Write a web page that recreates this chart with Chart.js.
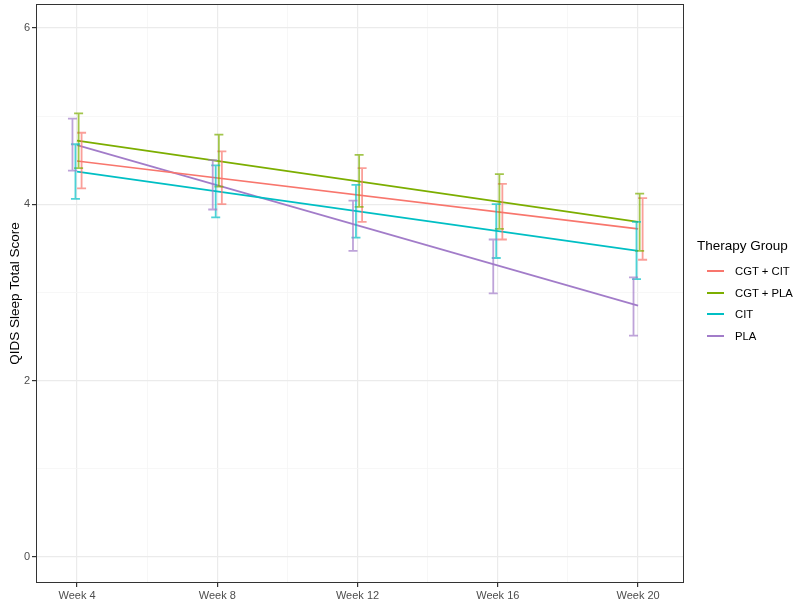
<!DOCTYPE html>
<html>
<head>
<meta charset="utf-8">
<script src="https://cdn.jsdelivr.net/npm/chart.js@4.4.1/dist/chart.umd.min.js"></script>
<style>
    body { margin: 0; background: #fff; font-family: "Liberation Sans", Arial, sans-serif; }
    #wrap { position: relative; width: 800px; height: 604px; }
    #legend { position: absolute; left: 697px; top: 238px; color: #000; }
    #legend .title { font-size: 13.5px; margin-bottom: 7px; }
    #legend .item { display: flex; align-items: center; height: 21.7px; font-size: 11.3px; }
    #legend .key { width: 17px; height: 2px; margin: 0 11px 0 10px; }
</style>
</head>
<body>
<div id="wrap">
    <canvas id="chart" width="800" height="604"></canvas>
    <div id="legend"></div>
</div>
<script>
// weeks on the x axis
const weeks = [4, 8, 12, 16, 20];
const groups = ['CGT + CIT', 'CGT + PLA', 'CIT', 'PLA'];
const colors = ['#F8766D', '#7CAE00', '#00BFC4', '#A27CC9'];

// fitted line, value at week 4 and week 20
const lineStart = [4.49, 4.72, 4.37, 4.67];
const lineEnd = [3.72, 3.80, 3.47, 2.85];

// error bar ends per group, one value per week
const lowerCgtCit = [4.18, 4.00, 3.80, 3.60, 3.37];
const upperCgtCit = [4.81, 4.60, 4.41, 4.23, 4.07];
const lowerCgtPla = [4.41, 4.20, 3.97, 3.72, 3.47];
const upperCgtPla = [5.03, 4.79, 4.56, 4.34, 4.12];
const lowerCit = [4.06, 3.85, 3.62, 3.39, 3.15];
const upperCit = [4.68, 4.44, 4.22, 4.00, 3.80];
const lowerPla = [4.38, 3.94, 3.47, 2.99, 2.51];
const upperPla = [4.97, 4.50, 4.04, 3.60, 3.17];

const lowers = [lowerCgtCit, lowerCgtPla, lowerCit, lowerPla];
const uppers = [upperCgtCit, upperCgtPla, upperCit, upperPla];

// dodge of each group's error bar, in weeks
const dodge = [0.13, 0.045, -0.045, -0.13];

function hexAlpha(hex, a) {
    const n = parseInt(hex.slice(1), 16);
    return `rgba(${n >> 16}, ${(n >> 8) & 255}, ${n & 255}, ${a})`;
}

// Error bars drawn through the chart scales
const errorBarPlugin = {
    id: 'errorBars',
    afterDatasetsDraw(chart) {
        const ctx = chart.ctx;
        const xs = chart.scales.x;
        const ys = chart.scales.y;
        ctx.save();
        ctx.lineWidth = 1.8;
        groups.forEach((g, gi) => {
            ctx.strokeStyle = hexAlpha(colors[gi], 0.7);
            weeks.forEach((w, wi) => {
                const x = xs.getPixelForValue(w + dodge[gi]);
                const y1 = ys.getPixelForValue(lowers[gi][wi]);
                const y2 = ys.getPixelForValue(uppers[gi][wi]);
                ctx.beginPath();
                ctx.moveTo(x, y1);
                ctx.lineTo(x, y2);
                ctx.moveTo(x - 4.5, y1);
                ctx.lineTo(x + 4.5, y1);
                ctx.moveTo(x - 4.5, y2);
                ctx.lineTo(x + 4.5, y2);
                ctx.stroke();
            });
        });
        ctx.restore();
    }
};

// Panel border like theme_bw
const panelBorder = {
    id: 'panelBorder',
    afterDraw(chart) {
        const a = chart.chartArea;
        const ctx = chart.ctx;
        ctx.save();
        ctx.strokeStyle = '#333333';
        ctx.lineWidth = 1;
        ctx.strokeRect(a.left + 0.5, a.top + 0.5, a.right - a.left - 1, a.bottom - a.top - 1);
        ctx.restore();
    }
};

const datasets = groups.map((g, i) => ({
    label: g,
    data: [{ x: weeks[0], y: lineStart[i] }, { x: weeks[weeks.length - 1], y: lineEnd[i] }],
    borderColor: colors[i],
    borderWidth: 1.7,
    pointRadius: 0,
    fill: false
}));

const tickFont = { family: '"Liberation Sans", Arial, sans-serif', size: 11 };

new Chart(document.getElementById('chart'), {
    type: 'line',
    data: { datasets: datasets },
    options: {
        responsive: false,
        animation: false,
        layout: { padding: { top: 4, right: 116, bottom: 0, left: 0 } },
        plugins: { legend: { display: false }, tooltip: { enabled: false } },
        scales: {
            x: {
                type: 'linear',
                min: 2.83,
                max: 21.31,
                afterBuildTicks: scale => {
                    scale.ticks = [4, 6, 8, 10, 12, 14, 16, 18, 20].map(v => ({ value: v }));
                },
                afterFit: scale => {
                    scale.height = 21;
                    scale.paddingLeft = 0;
                    scale.paddingRight = 0;
                },
                ticks: {
                    autoSkip: false,
                    maxRotation: 0,
                    padding: 2,
                    color: '#4D4D4D',
                    font: tickFont,
                    callback: v => (v % 4 === 0 ? 'Week ' + v : '')
                },
                grid: {
                    color: c => (c.tick && c.tick.value % 4 === 0 ? '#EBEBEB' : '#F5F5F5'),
                    lineWidth: c => (c.tick && c.tick.value % 4 === 0 ? 1.2 : 0.8),
                    tickColor: c => (c.tick && c.tick.value % 4 === 0 ? '#333333' : 'rgba(0,0,0,0)'),
                    tickLength: 4
                },
                border: { display: false }
            },
            y: {
                min: -0.295,
                max: 6.27,
                afterBuildTicks: scale => {
                    scale.ticks = [0, 1, 2, 3, 4, 5, 6].map(v => ({ value: v }));
                },
                afterFit: scale => {
                    scale.width = 36;
                    scale.paddingTop = 0;
                    scale.paddingBottom = 0;
                },
                ticks: {
                    padding: 2,
                    color: '#4D4D4D',
                    font: tickFont,
                    callback: v => (v % 2 === 0 ? String(v) : '')
                },
                grid: {
                    color: c => (c.tick && c.tick.value % 2 === 0 ? '#EBEBEB' : '#F5F5F5'),
                    lineWidth: c => (c.tick && c.tick.value % 2 === 0 ? 1.2 : 0.8),
                    tickColor: c => (c.tick && c.tick.value % 2 === 0 ? '#333333' : 'rgba(0,0,0,0)'),
                    tickLength: 4
                },
                border: { display: false },
                title: {
                    display: true,
                    text: 'QIDS Sleep Total Score',
                    color: '#000',
                    font: { family: '"Liberation Sans", Arial, sans-serif', size: 13.5 },
                    padding: { top: 7, bottom: 0 }
                }
            }
        }
    },
    plugins: [errorBarPlugin, panelBorder]
});

// HTML legend
const legend = document.getElementById('legend');
legend.innerHTML = '<div class="title">Therapy Group</div>' + groups.map((g, i) =>
    `<div class="item"><span class="key" style="background:${colors[i]}"></span>${g}</div>`
).join('');
</script>
</body>
</html>
